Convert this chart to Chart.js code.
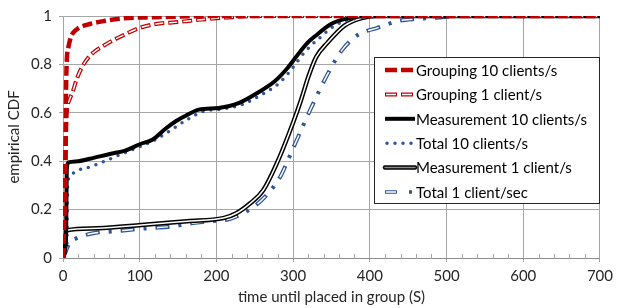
<!DOCTYPE html>
<html>
<head>
<meta charset="utf-8">
<script src="https://cdn.jsdelivr.net/npm/chart.js@4.4.0/dist/chart.umd.min.js"></script>
<style>
  html, body { margin: 0; padding: 0; background: #fff; }
  #wrap { width: 618px; height: 308px; }
</style>
</head>
<body>
<div id="wrap"><canvas id="cdfChart" width="618" height="308"></canvas></div>
<script>
// x = seconds until placed in group, y = empirical CDF
const xTicks = [0, 100, 200, 300, 400, 500, 600, 700];
const yTicks = [0, 0.2, 0.4, 0.6, 0.8, 1];

const grp10X = [0, 2, 3, 3.5, 4, 5, 7, 10, 13, 20, 35, 55, 77, 120, 200, 700];
const grp10Y = [0, 0.2, 0.4, 0.55, 0.7, 0.82, 0.87, 0.91, 0.93, 0.95, 0.967, 0.98, 0.99, 0.995, 1, 1];

const grp1X = [0, 3, 4, 5, 8, 13, 18, 25, 35, 57, 77, 99, 121, 150, 180, 220, 260, 700];
const grp1Y = [0, 0.3, 0.5, 0.6, 0.65, 0.69, 0.74, 0.79, 0.835, 0.885, 0.918, 0.95, 0.967, 0.975, 0.985, 0.995, 1, 1];

const meas10X = [0, 4, 5, 7, 20, 35, 61, 82, 100, 117, 134, 147, 161, 177, 203, 229, 254, 276, 293, 306, 319, 328, 349, 371, 400, 700];
const meas10Y = [0, 0.1, 0.37, 0.395, 0.4, 0.41, 0.43, 0.445, 0.47, 0.49, 0.535, 0.565, 0.59, 0.613, 0.62, 0.64, 0.683, 0.73, 0.786, 0.84, 0.89, 0.915, 0.966, 0.99, 1, 1];

const tot10X = [0, 5, 6, 8, 13, 39, 82, 121, 161, 182, 207, 234, 259, 281, 298, 311, 324, 333, 354, 376, 405, 700];
const tot10Y = [0, 0.05, 0.3, 0.33, 0.35, 0.38, 0.437, 0.49, 0.57, 0.605, 0.615, 0.635, 0.675, 0.72, 0.78, 0.835, 0.88, 0.905, 0.96, 0.985, 1, 1];

const meas1X = [0, 3, 4, 5, 45, 102, 162, 209, 226, 244, 261, 280, 300, 310, 320, 330, 345, 367, 388, 410, 700];
const meas1Y = [0, 0.05, 0.11, 0.115, 0.123, 0.136, 0.152, 0.165, 0.185, 0.226, 0.28, 0.4, 0.56, 0.65, 0.75, 0.83, 0.89, 0.96, 0.99, 1, 1];

const tot1X = [0, 4, 8, 18, 41, 67, 91, 116, 141, 167, 190, 216, 238, 254, 271, 284, 294, 303, 313, 323, 345, 364, 386, 409, 438, 461, 487, 513, 700];
const tot1Y = [0, 0.03, 0.06, 0.082, 0.103, 0.11, 0.118, 0.124, 0.13, 0.143, 0.152, 0.16, 0.19, 0.225, 0.28, 0.34, 0.41, 0.475, 0.547, 0.617, 0.76, 0.86, 0.925, 0.95, 0.98, 0.988, 0.993, 1, 1];

const labels = [
  "Grouping 10 clients/s",
  "Grouping 1 client/s",
  "Measurement 10 clients/s",
  "Total 10 clients/s",
  "Measurement 1 client/s",
  "Total 1 client/sec",
];

const RED = "#c00000";
const BLUE = "#2f5597";
const FONT = { family: "Lato", size: 15 };

function pts(xs, ys) {
  return xs.map((x, i) => ({ x: x, y: ys[i] }));
}

function line(xs, ys, extra) {
  return Object.assign({
    data: pts(xs, ys),
    pointRadius: 0,
    fill: false,
    cubicInterpolationMode: "monotone",
  }, extra);
}

// index 0 is drawn on top
const datasets = [
  line(grp10X, grp10Y, { borderColor: RED, borderWidth: 4.5, borderDash: [10, 4] }),
  line(grp1X, grp1Y, { borderColor: "#fff", borderWidth: 1.5, borderDash: [8, 6], borderDashOffset: 13 }),
  line(grp1X, grp1Y, { borderColor: RED, borderWidth: 4, borderDash: [10, 4] }),
  line(meas10X, meas10Y, { borderColor: "#000", borderWidth: 4 }),
  line(tot10X, tot10Y, { borderColor: BLUE, borderWidth: 3.5, borderDash: [0, 8], borderCapStyle: "round" }),
  line(meas1X, meas1Y, { borderColor: "#fff", borderWidth: 1.5 }),
  line(meas1X, meas1Y, { borderColor: "#000", borderWidth: 4.5 }),
  line(tot1X, tot1Y, { borderColor: "#fff", borderWidth: 1.5, borderDash: [11, 24], borderDashOffset: 33.5 }),
  line(tot1X, tot1Y, { borderColor: BLUE, borderWidth: 4, borderDash: [14, 9, 3, 9] }),
];

// minor tick marks along the x axis every 20 s
const minorTicks = {
  id: "minorTicks",
  beforeDatasetsDraw(chart) {
    const { ctx, scales } = chart;
    const xs = scales.x;
    const yb = scales.y.getPixelForValue(0);
    ctx.save();
    ctx.strokeStyle = "#a6a6a6";
    ctx.lineWidth = 1;
    for (let v = 20; v < 700; v += 20) {
      if (v % 100 === 0) continue;
      const px = Math.round(xs.getPixelForValue(v)) + 0.5;
      ctx.beginPath();
      ctx.moveTo(px, yb - 4);
      ctx.lineTo(px, yb + 1);
      ctx.stroke();
    }
    ctx.restore();
  },
};

function sample(ctx, i, x0, x1, y) {
  ctx.save();
  ctx.lineCap = "butt";
  const seg = (dash, color, w, off) => {
    ctx.setLineDash(dash || []);
    ctx.lineDashOffset = off || 0;
    ctx.strokeStyle = color;
    ctx.lineWidth = w;
    ctx.beginPath();
    ctx.moveTo(x0, y);
    ctx.lineTo(x1, y);
    ctx.stroke();
  };
  if (i === 0) seg([12, 4], RED, 4.5);
  if (i === 1) { seg([12, 4], RED, 4); seg([10, 6], "#fff", 1.5, -1); }
  if (i === 2) seg(null, "#000", 4);
  if (i === 3) { ctx.lineCap = "round"; seg([0, 8], BLUE, 3.5, -2); }
  if (i === 4) { ctx.lineCap = "round"; seg(null, "#000", 4.5); seg(null, "#888", 1.5); }
  if (i === 5) {
    seg([12, 12, 3, 10], BLUE, 3.5);
    seg([10, 27], "#fff", 1.5, -1);
  }
  ctx.restore();
}

const boxLegend = {
  id: "boxLegend",
  afterDraw(chart) {
    const ctx = chart.ctx;
    const bx = 374.5, by = 57.5, bw = 225, bh = 146;
    ctx.save();
    ctx.fillStyle = "#fff";
    ctx.fillRect(bx, by, bw, bh);
    ctx.strokeStyle = "#262626";
    ctx.lineWidth = 1;
    ctx.strokeRect(bx, by, bw, bh);
    ctx.font = "15px Lato";
    ctx.fillStyle = "#000";
    ctx.textBaseline = "middle";
    labels.forEach((t, i) => {
      const y = 70 + i * 24.4;
      sample(ctx, i, 385, 415, y);
      ctx.fillText(t, 416, y + 1);
    });
    ctx.restore();
  },
};

new Chart(document.getElementById("cdfChart").getContext("2d"), {
  type: "line",
  data: { datasets: datasets },
  options: {
    responsive: false,
    animation: false,
    events: [],
    layout: { padding: { top: 15, right: 13, left: 0, bottom: 0 } },
    plugins: { legend: { display: false }, tooltip: { enabled: false } },
    scales: {
      x: {
        type: "linear",
        min: 0,
        max: 700,
        afterBuildTicks: (s) => { s.ticks = xTicks.map((v) => ({ value: v })); },
        ticks: { color: "#262626", font: FONT, padding: 5 },
        grid: { color: "#a6a6a6", tickColor: "#a6a6a6", tickLength: 4 },
        border: { color: "#8c8c8c" },
        title: {
          display: true,
          text: "time until placed in group (S)",
          color: "#262626",
          font: FONT,
          padding: { top: 0, bottom: 2 },
        },
        afterFit: (s) => { s.height = 50; },
      },
      y: {
        min: 0,
        max: 1,
        afterBuildTicks: (s) => { s.ticks = yTicks.map((v) => ({ value: v })); },
        ticks: { color: "#262626", font: FONT, padding: 7, callback: (v) => String(+v.toFixed(1)) },
        grid: { color: "#a6a6a6", tickColor: "#a6a6a6", tickLength: 4 },
        border: { color: "#a6a6a6" },
        title: {
          display: true,
          text: "empirical CDF",
          color: "#262626",
          font: FONT,
          padding: { top: 5, bottom: 0 },
        },
        afterFit: (s) => { s.width = 63; },
      },
    },
  },
  plugins: [minorTicks, boxLegend],
});
</script>
</body>
</html>
